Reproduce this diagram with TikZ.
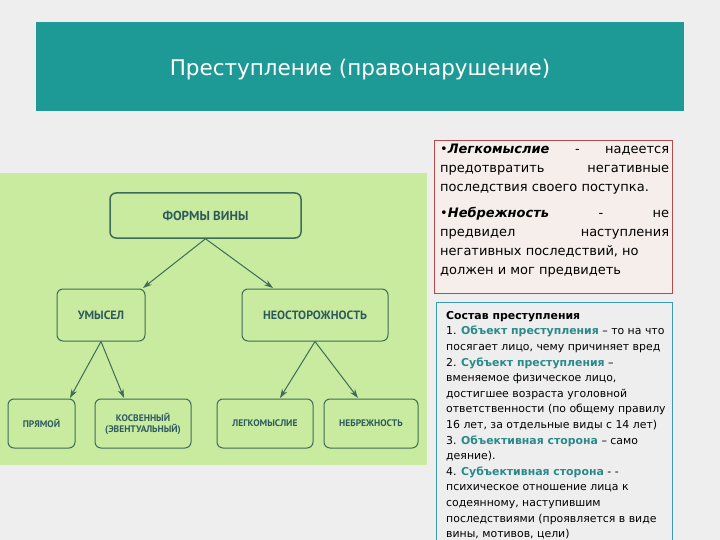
\documentclass[tikz,border=0pt]{standalone}
\usepackage{fontspec}
\setmainfont{DejaVu Sans}
\newfontfamily\treefont{PT Sans}
\usetikzlibrary{arrows.meta}
\definecolor{bg}{HTML}{EEEEEE}
\definecolor{teal1}{HTML}{1E9A96}
\definecolor{panel}{HTML}{C8EBA0}
\definecolor{boxline}{HTML}{3E6B5A}
\definecolor{treetext}{HTML}{2E5A5E}
\definecolor{hl}{HTML}{2A8A8A}
\definecolor{redline}{HTML}{B84A4A}
\definecolor{pinkfill}{HTML}{F6EEEA}
\definecolor{blueline}{HTML}{3A9AB0}
\begin{document}
\begin{tikzpicture}[x=1pt,y=-1pt,
  tbox/.style={draw=boxline,line width=1pt,rounded corners=6pt,fill=panel,align=center,inner sep=0pt},
  arr/.style={draw=boxline,line width=1pt,-{Stealth[length=9pt,width=6pt]}}]
\fill[bg] (0,0) rectangle (720,540);
\useasboundingbox (0,0) rectangle (720,540);
\fill[teal1] (36,22) rectangle (684,111);
\node[text=white,font=\fontsize{21.5}{24}\selectfont] (title) at (360,70) {Преступление (правонарушение)};
\fill[panel] (0,173) rectangle (427,465);
\node[tbox,minimum width=191pt,minimum height=45pt,line width=1.5pt,font=\treefont\bfseries\fontsize{13}{15}\selectfont\color{treetext}] (fv) at (205.5,215.5) {ФОРМЫ ВИНЫ};
\node[tbox,minimum width=88pt,minimum height=52pt,font=\treefont\bfseries\fontsize{12}{14}\selectfont\color{treetext}] (um) at (101,315) {УМЫСЕЛ};
\node[tbox,minimum width=146pt,minimum height=52pt,font=\treefont\bfseries\fontsize{12}{14}\selectfont\color{treetext}] (ne) at (315,315) {НЕОСТОРОЖНОСТЬ};
\node[tbox,minimum width=67pt,minimum height=49pt,font=\treefont\bfseries\fontsize{9.5}{11}\selectfont\color{treetext}] (pr) at (41.5,423.5) {ПРЯМОЙ};
\node[tbox,minimum width=96pt,minimum height=49pt,font=\treefont\bfseries\fontsize{9.5}{11}\selectfont\color{treetext}] (ko) at (143,423.5) {КОСВЕННЫЙ\\(ЭВЕНТУАЛЬНЫЙ)};
\node[tbox,minimum width=96pt,minimum height=49pt,font=\treefont\bfseries\fontsize{9.5}{11}\selectfont\color{treetext}] (le) at (265,423.5) {ЛЕГКОМЫСЛИЕ};
\node[tbox,minimum width=94pt,minimum height=49pt,font=\treefont\bfseries\fontsize{9.5}{11}\selectfont\color{treetext}] (nb) at (371,423.5) {НЕБРЕЖНОСТЬ};
\draw[arr] (fv.south) -- (143,288);
\draw[arr] (fv.south) -- (273,288);
\draw[arr] (um.south) -- (70,398);
\draw[arr] (um.south) -- (124,398);
\draw[arr] (ne.south) -- (280,398);
\draw[arr] (ne.south) -- (358,398);
\draw[redline,fill=pinkfill,line width=0.8pt] (434,140) rectangle (672,293);
\node[anchor=north west,text width=229pt,align=justify,inner sep=0pt,font=\fontsize{13}{19}\selectfont] (t1) at (440,144)
{\textbullet\textbf{\textit{Легкомыслие}} - надеется предотвратить негативные последствия своего поступка.\par\vspace{7pt}
\textbullet\textbf{\textit{Небрежность}} \hfill - \hfill не\\ предвидел \hfill наступления\\ негативных последствий, но\\ должен и мог предвидеть};
\draw[blueline,line width=0.8pt] (436,302) rectangle (672,545);
\node[anchor=north west,align=left,inner sep=0pt,font=\fontsize{10.9}{15.6}\selectfont] (t2) at (446,311)
{\textbf{Состав преступления}\\
1. \textcolor{hl}{\textbf{Объект преступления}} -- то на что\\
посягает лицо, чему причиняет вред\\
2. \textcolor{hl}{\textbf{Субъект преступления}} --\\
вменяемое физическое лицо,\\
достигшее возраста уголовной\\
ответственности (по общему правилу\\
16 лет, за отдельные виды с 14 лет)\\
3. \textcolor{hl}{\textbf{Объективная сторона}} -- само\\
деяние).\\
4. \textcolor{hl}{\textbf{Субъективная сторона}} - -\\
психическое отношение лица к\\
содеянному, наступившим\\
последствиями (проявляется в виде\\
вины, мотивов, цели)};
\end{tikzpicture}
\end{document}
